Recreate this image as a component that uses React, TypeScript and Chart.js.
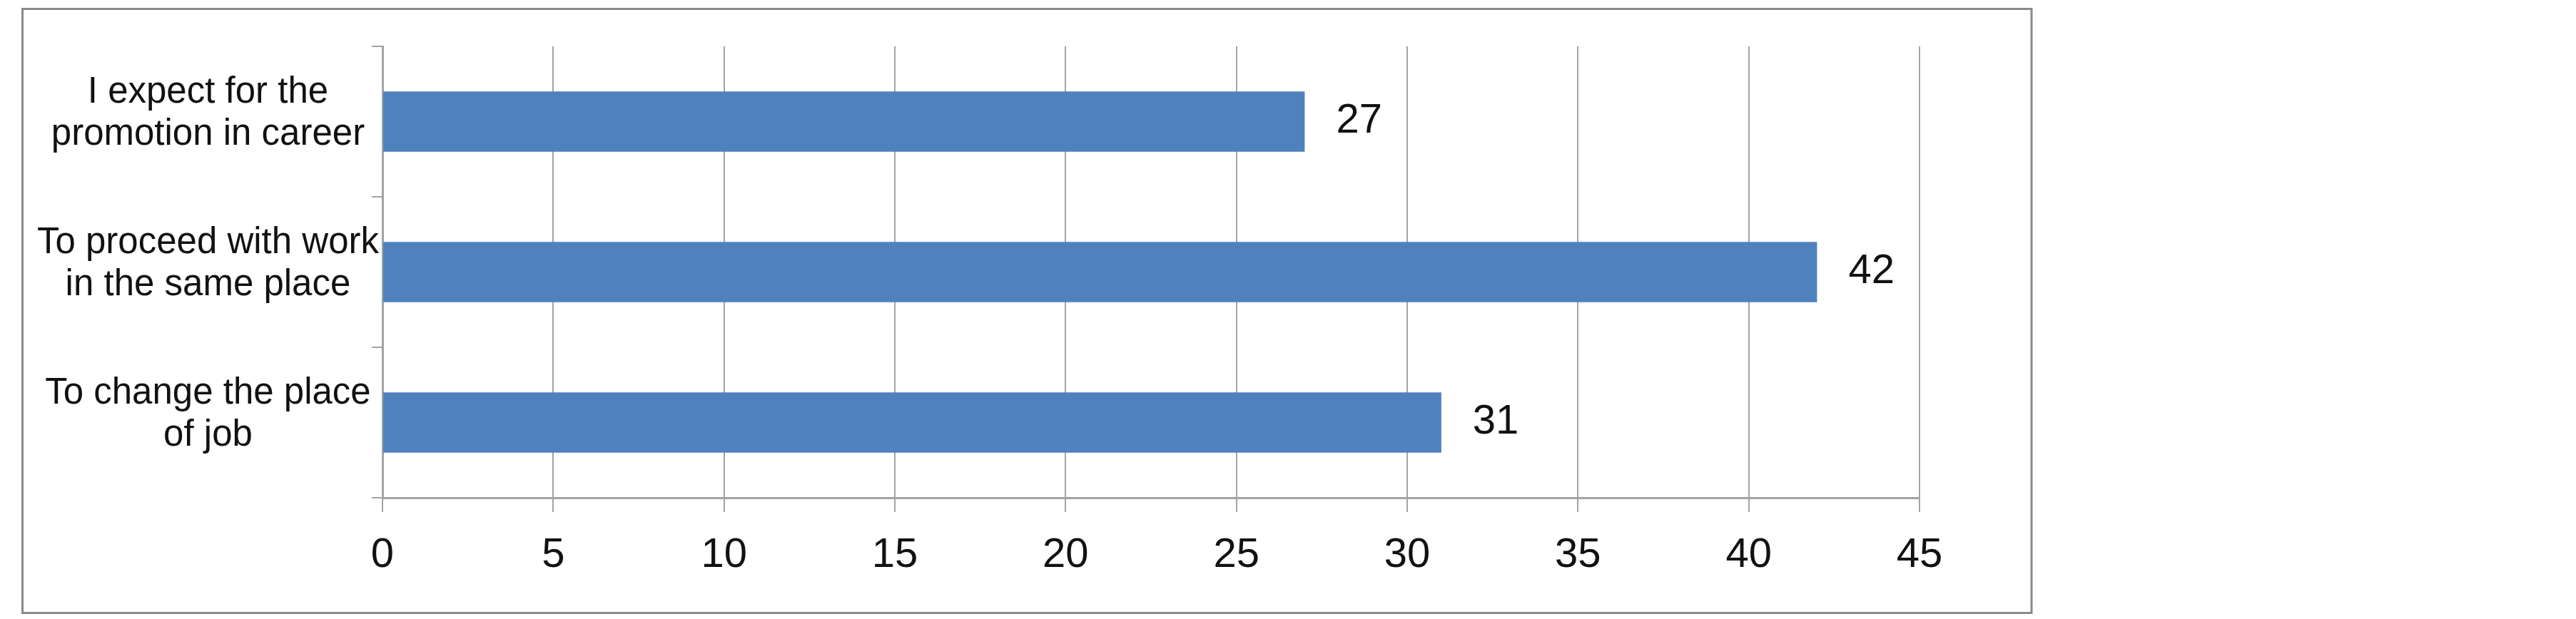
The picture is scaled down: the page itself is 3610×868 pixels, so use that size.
import React, { useEffect, useRef } from 'react';
import { Chart, registerables } from 'chart.js';

Chart.register(...registerables);

const categories: string[][] = [
  ['I expect for the', 'promotion in career'],
  ['To proceed with work', 'in the same place'],
  ['To change the place', 'of job'],
];
const values: number[] = [27, 42, 31];
const xMin = 0;
const xMax = 45;
const xStep = 5;

const FONT = "'Liberation Sans', Arial, sans-serif";
const GRID = '#a3a3a3';
const FRAME = '#8a8a8a';
const BAR = '#4F81BD';

export default function App() {
  const ref = useRef<HTMLCanvasElement | null>(null);

  useEffect(() => {
    if (!ref.current) return;

    const framePlugin = {
      id: 'frame',
      beforeDraw(chart: any) {
        const ctx = chart.ctx;
        ctx.save();
        ctx.fillStyle = '#ffffff';
        ctx.fillRect(0, 0, chart.width, chart.height);
        ctx.strokeStyle = FRAME;
        ctx.lineWidth = 3;
        ctx.strokeRect(31.5, 12.5, 2847 - 31.5, 859.5 - 12.5);
        ctx.restore();
      },
    };

    const valueLabels = {
      id: 'valueLabels',
      afterDatasetsDraw(chart: any) {
        const ctx = chart.ctx;
        const meta = chart.getDatasetMeta(0);
        ctx.save();
        ctx.font = `58px ${FONT}`;
        ctx.fillStyle = '#111111';
        ctx.textAlign = 'left';
        ctx.textBaseline = 'middle';
        meta.data.forEach((el: any, i: number) => {
          ctx.fillText(String(chart.data.datasets[0].data[i]), el.x + 44, el.y - 1);
        });
        ctx.restore();
      },
    };

    const chart = new Chart(ref.current, {
      type: 'bar',
      data: {
        labels: categories,
        datasets: [
          {
            data: values,
            backgroundColor: BAR,
            borderWidth: 0,
            categoryPercentage: 0.8,
            barPercentage: 0.5,
          },
        ],
      },
      options: {
        indexAxis: 'y',
        animation: false,
        responsive: true,
        maintainAspectRatio: false,
        layout: { padding: { left: 28, top: 65, right: 920, bottom: 0 } },
        plugins: {
          legend: { display: false },
          tooltip: { enabled: false },
        },
        scales: {
          x: {
            type: 'linear',
            min: xMin,
            max: xMax,
            afterFit: (s: any) => {
              s.height = 170;
            },
            ticks: {
              stepSize: xStep,
              font: { size: 58, family: FONT },
              color: '#111111',
              padding: 26,
              maxRotation: 0,
            },
            grid: {
              color: GRID,
              lineWidth: 2,
              tickLength: 20,
              drawTicks: true,
            },
            border: { display: true, color: GRID, width: 3 },
          },
          y: {
            type: 'category',
            offset: true,
            afterFit: (s: any) => {
              s.width = 536 - 28;
            },
            ticks: {
              font: { size: 51, family: FONT, lineHeight: 1.16 },
              color: '#111111',
              crossAlign: 'center',
              padding: -10,
              labelOffset: -11,
            },
            grid: {
              color: GRID,
              lineWidth: 2,
              tickLength: 15,
              drawTicks: true,
              drawOnChartArea: false,
              offset: true,
            },
            border: { display: true, color: GRID, width: 3 },
          },
        },
      },
      plugins: [framePlugin, valueLabels],
    });

    return () => chart.destroy();
  }, []);

  return (
    <div style={{ position: 'absolute', left: 0, top: 0, width: 3610, height: 868 }}>
      <canvas ref={ref} />
    </div>
  );
}
